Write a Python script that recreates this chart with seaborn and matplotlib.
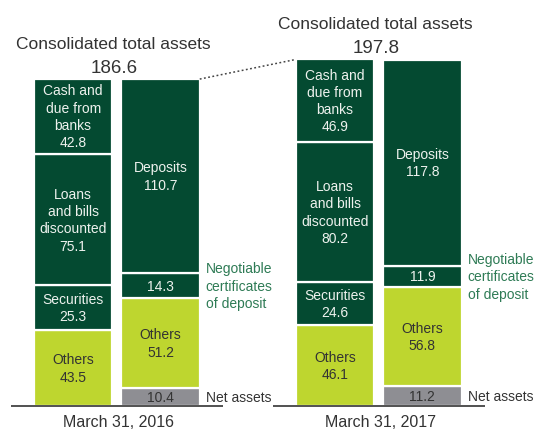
import matplotlib
matplotlib.use("Agg")
import matplotlib.pyplot as plt
import pandas as pd
import seaborn as sns

# ---- data (trillions of yen) ----
dates = ["March 31, 2016", "March 31, 2017"]
totals = [186.6, 197.8]

asset_labels = ["Others", "Securities", "Loans\nand bills\ndiscounted", "Cash and\ndue from\nbanks"]
assets_2016 = [43.5, 25.3, 75.1, 42.8]
assets_2017 = [46.1, 24.6, 80.2, 46.9]

liab_labels = ["", "Others", "", "Deposits"]
liab_2016 = [10.4, 51.2, 14.3, 110.7]
liab_2017 = [11.2, 56.8, 11.9, 117.8]

side_labels = ["Net assets", "", "Negotiable\ncertificates\nof deposit", ""]

DARK = "#044A31"
LIME = "#BED62F"
GRAY = "#8E8E93"
asset_colors = [LIME, DARK, DARK, DARK]
liab_colors = [GRAY, LIME, DARK, DARK]
TXT = "#333333"
GREEN_TXT = "#2E7B55"

sns.set_theme(style="white")
plt.rcParams["font.family"] = ["Liberation Sans", "DejaVu Sans"]

order = ["a2016", "l2016", "gap", "a2017", "l2017"]
pos = {k: i for i, k in enumerate(order)}

fig = plt.figure(figsize=(5.4, 4.31), dpi=100)
ax = fig.add_axes([0, 0, 1, 1])

BAR_W = 0.9


def stack(bar, values, colors, labels, side=None):
    bottom = 0.0
    x = pos[bar]
    for i, (v, c, lab) in enumerate(zip(values, colors, labels)):
        df = pd.DataFrame({"bar": [bar], "value": [v]})
        sns.barplot(data=df, x="bar", y="value", order=order, color=c,
                    bottom=bottom, width=BAR_W, edgecolor="white",
                    linewidth=1.6, saturation=1, ax=ax, errorbar=None)
        mid = bottom + v / 2
        txt = f"{lab}\n{v:.1f}" if lab else f"{v:.1f}"
        ax.text(x, mid, txt, ha="center", va="center", fontsize=10,
                color="#EEF2EE" if c == DARK else TXT, linespacing=1.3)
        if side and side[i]:
            ax.text(x + 0.52, mid, side[i], ha="left", va="center",
                    fontsize=10,
                    color=GREEN_TXT if "Negotiable" in side[i] else TXT,
                    linespacing=1.3)
        bottom += v


stack("a2016", assets_2016, asset_colors, asset_labels)
stack("l2016", liab_2016, liab_colors, liab_labels, side_labels)
stack("a2017", assets_2017, asset_colors, asset_labels)
stack("l2017", liab_2017, liab_colors, liab_labels, side_labels)

# group captions, totals and baselines
for g, (d, tot) in enumerate(zip(dates, totals)):
    center = pos["a2016"] + 0.5 + 3 * g
    ax.plot([center - 1.215, center + 1.215], [0, 0], color="#222222", lw=1.1,
            solid_capstyle="butt")
    ax.text(center + 0.02, -11.2, d, ha="center", va="baseline",
            fontsize=11.5, color=TXT)
    ax.text(center - 0.04, tot + 17.8, "Consolidated total assets",
            ha="center", va="baseline", fontsize=12.5, color=TXT)
    ax.text(center - 0.03, tot + 4.2, f"{tot:.1f}", ha="center",
            va="baseline", fontsize=13.5, color=TXT)

# dotted connector between the two year totals
ax.plot([pos["l2016"] + BAR_W / 2, pos["a2017"] - BAR_W / 2],
        [totals[0], totals[1]], color="#444444", lw=1.1, ls=(0, (1.2, 1.6)))

ax.set_xlim(-0.838, 5.347)
ax.set_ylim(-13.7, 232.3)
ax.axis("off")

fig.savefig("out.png", dpi=100)
